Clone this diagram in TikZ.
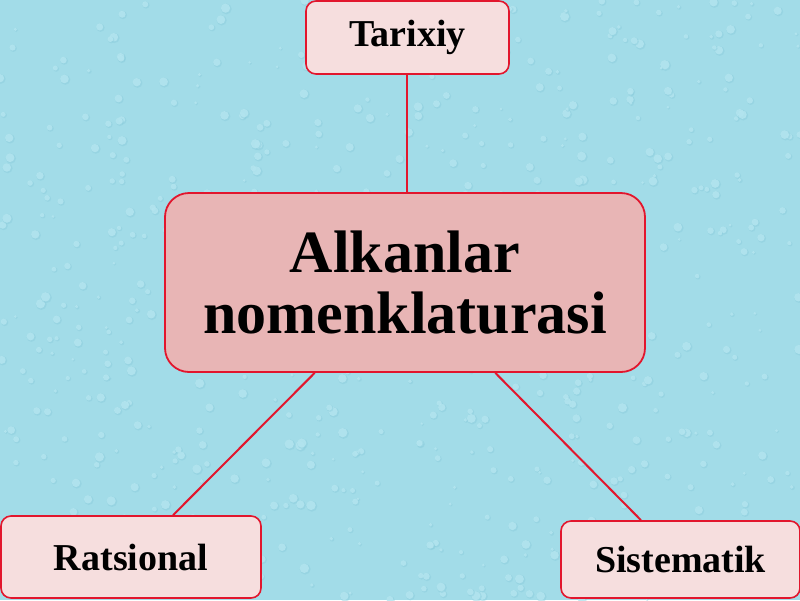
\documentclass[tikz,border=0pt]{standalone}
\usepackage{fontspec}
\setmainfont{Liberation Serif}
\usetikzlibrary{calc}
\definecolor{bgblue}{RGB}{162,220,232}
\definecolor{dropl}{RGB}{186,233,242}
\definecolor{dropd}{RGB}{138,204,220}
\definecolor{boxfill}{RGB}{246,222,222}
\definecolor{mainfill}{RGB}{232,181,181}
\definecolor{edgered}{RGB}{226,22,45}
\tikzset{
  leaf/.style={draw=edgered, line width=1.6pt, fill=boxfill, rounded corners=10pt,
    font=\fontsize{38}{40}\selectfont\bfseries, inner sep=0pt, align=center},
  mainbox/.style={draw=edgered, line width=1.8pt, fill=mainfill, rounded corners=24pt,
    font=\fontsize{60}{61}\selectfont\bfseries, inner sep=0pt, align=center,
    minimum width=480pt, minimum height=179pt},
  link/.style={draw=edgered, line width=2pt}
}
\begin{document}
\begin{tikzpicture}[x=1pt,y=-1pt]
\useasboundingbox (0,0) rectangle (800,600);
\fill[bgblue] (0,0) rectangle (800,600);
\pgfmathsetseed{7}
\foreach \i in {1,...,700}{
  \pgfmathsetmacro{\px}{rnd*800}
  \pgfmathsetmacro{\py}{rnd*600}
  \pgfmathsetmacro{\pr}{1.5+rnd*4}
  \fill[dropd, opacity=0.45] (\px+0.8,\py+0.8) circle (\pr);
  \fill[dropl, opacity=0.7] (\px,\py) circle (\pr*0.85);
}
\node[mainbox] (c) at (405,282.5) {Alkanlar\\nomenklaturasi};
\node[leaf, minimum width=203pt, minimum height=73pt] (t) at (407.5,37.5) {Tarixiy};
\node[leaf, minimum width=260pt, minimum height=82pt] (r) at (131,557) {Ratsional};
\node[leaf, minimum width=239pt, minimum height=77pt] (s) at (680.5,559.5) {Sistematik};
\draw[link] ([xshift=-0.3pt]t.south) -- ([xshift=-0.3pt]t.south |- c.north);
\draw[link] ($(c.south west)!0.3125!(c.south east)$) -- ([xshift=42pt]r.north);
\draw[link] ($(c.south west)!0.6875!(c.south east)$) -- ([xshift=-39.5pt]s.north);
\end{tikzpicture}
\end{document}
